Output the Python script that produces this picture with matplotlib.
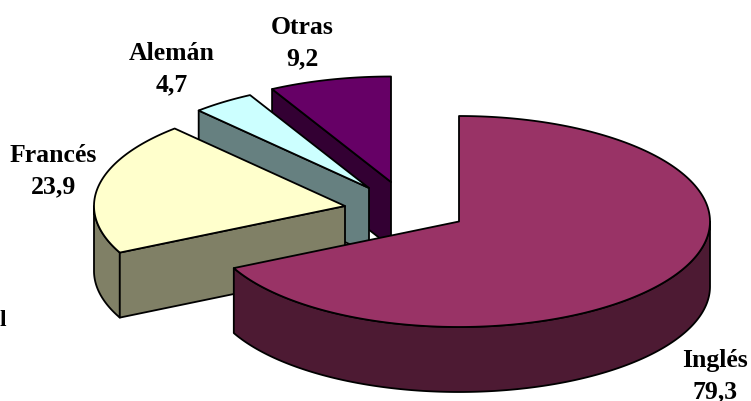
import numpy as np
import matplotlib
matplotlib.use("Agg")
import matplotlib.pyplot as plt
from matplotlib.patches import Polygon

categories = ["Inglés", "Francés", "Alemán", "Otras"]
values = [79.3, 23.9, 4.7, 9.2]
value_labels = ["79,3", "23,9", "4,7", "9,2"]

top_colors = ["#993366", "#FFFFCC", "#CCFFFF", "#660066"]
side_colors = ["#4D1A33", "#808066", "#668080", "#330033"]
apexes = [(459, 222.5), (345, 207), (369, 189), (391, 183)]
label_pos = [(715, 376), (53, 171), (172, 69), (302, 43)]
RX, RY, DEPTH = 251, 105.5, 65

fig = plt.figure(figsize=(7.51, 4.02), dpi=100, facecolor="white")
ax = fig.add_axes([0, 0, 1, 1])
ax.set_xlim(0, 751)
ax.set_ylim(402, 0)
ax.axis("off")


def pt(c, t):
    return c[0] + RX * np.sin(t), c[1] - RY * np.cos(t)


fr = np.cumsum([0] + values) / sum(values) * 2 * np.pi
lw = 1.3
for i in [3, 2, 1, 0]:
    c, t0, t1 = apexes[i], fr[i], fr[i + 1]
    ts = np.linspace(t0, t1, 200)
    xs, ys = pt(c, ts)
    z = 10 - i
    a, b = max(t0, np.pi / 2), min(t1, 3 * np.pi / 2)
    if b > a:
        tw = np.linspace(a, b, 200)
        wx, wy = pt(c, tw)
        wall = np.r_[np.c_[wx, wy], np.c_[wx, wy + DEPTH][::-1]]
        ax.add_patch(Polygon(wall, fc=side_colors[i], ec="black", lw=lw, zorder=z, joinstyle="round"))
    if i > 0:
        ex, ey = xs[0], ys[0]
        rad = [(ex, ey), c, (c[0], c[1] + DEPTH), (ex, ey + DEPTH)]
        ax.add_patch(Polygon(rad, fc=side_colors[i], ec="black", lw=lw, zorder=z, joinstyle="round"))
    top = np.r_[[c], np.c_[xs, ys]]
    ax.add_patch(Polygon(top, fc=top_colors[i], ec="black", lw=lw, zorder=z, joinstyle="round"))
    ax.text(label_pos[i][0], label_pos[i][1], f"{categories[i]}\n{value_labels[i]}",
            ha="center", va="center", family="Liberation Serif", weight="bold",
            fontsize=18.5, linespacing=1.46, color="black", zorder=20)

ax.text(0, 321, "l", ha="left", va="center", family="Liberation Serif", weight="bold", fontsize=17, color="black")
fig.savefig("out.png", dpi=100, facecolor="white")
